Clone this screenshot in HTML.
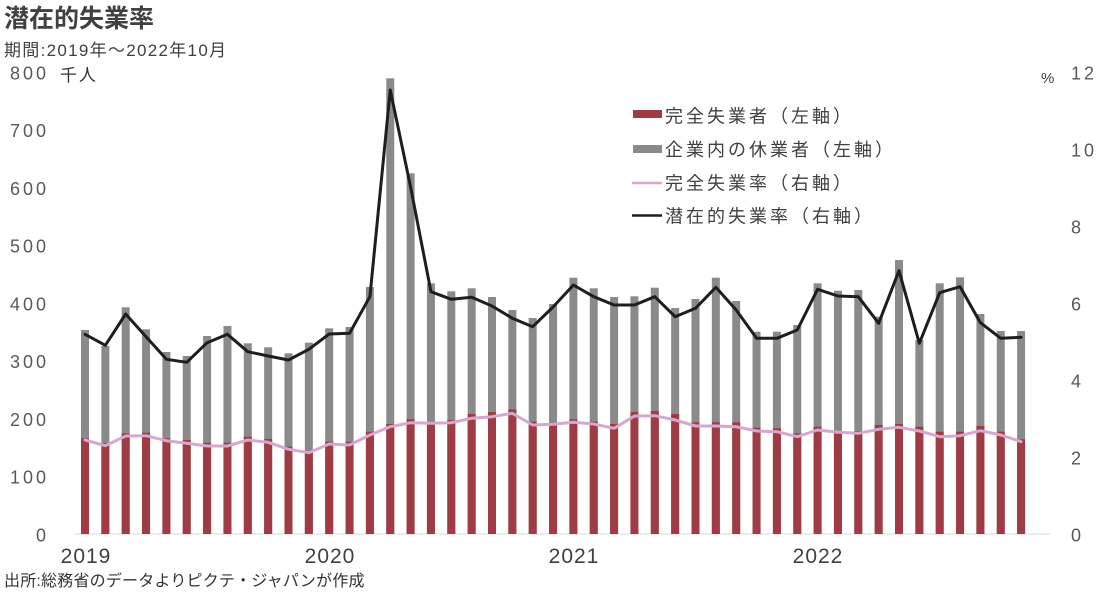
<!DOCTYPE html>
<html>
<head>
<meta charset="utf-8">
<style>
  html,body{margin:0;padding:0;background:#fff;}
  body{width:1105px;height:595px;overflow:hidden;}
  svg{display:block;font-family:"Liberation Sans","Noto Sans CJK JP",sans-serif;}
</style>
</head>
<body>
<svg width="1105" height="595" viewBox="0 0 1105 595" xmlns="http://www.w3.org/2000/svg">
  <rect width="1105" height="595" fill="#fff"/>
  <text x="4" y="27" font-size="25" font-weight="bold" fill="#404040">潜在的失業率</text>
  <text x="4" y="56" font-size="17" letter-spacing="1.3" fill="#404040">期間:2019年～2022年10月</text>
  <text x="60" y="81" font-size="17" letter-spacing="2" fill="#333">千人</text>
  <text x="1041" y="83" font-size="15" fill="#404040">%</text>

  <g font-size="18" letter-spacing="3" fill="#595959" text-anchor="end">
    <text x="49" y="79.5">800</text>
    <text x="49" y="137.2">700</text>
    <text x="49" y="195">600</text>
    <text x="49" y="252.7">500</text>
    <text x="49" y="310.5">400</text>
    <text x="49" y="368.2">300</text>
    <text x="49" y="426">200</text>
    <text x="49" y="483.7">100</text>
    <text x="49" y="541.5">0</text>
  </g>
  <g font-size="18" letter-spacing="3" fill="#595959">
    <text x="1071" y="79.5">12</text>
    <text x="1071" y="156.5">10</text>
    <text x="1071" y="233.5">8</text>
    <text x="1071" y="310.5">6</text>
    <text x="1071" y="387.5">4</text>
    <text x="1071" y="464.5">2</text>
    <text x="1071" y="541.5">0</text>
  </g>

  <line x1="75" y1="534" x2="1050" y2="534" stroke="#d9d9d9" stroke-width="1"/>

  <g fill="#8a8a8a">
    <rect x="81" y="330" width="8" height="204"/>
    <rect x="101.35" y="346" width="8" height="188"/>
    <rect x="121.7" y="307.3" width="8" height="226.7"/>
    <rect x="142.05" y="329.3" width="8" height="204.7"/>
    <rect x="162.4" y="352" width="8" height="182"/>
    <rect x="182.75" y="356" width="8" height="178"/>
    <rect x="203.1" y="336" width="8" height="198"/>
    <rect x="223.45" y="326" width="8" height="208"/>
    <rect x="243.8" y="343.3" width="8" height="190.7"/>
    <rect x="264.15" y="347.3" width="8" height="186.7"/>
    <rect x="284.5" y="353.3" width="8" height="180.7"/>
    <rect x="304.85" y="342.7" width="8" height="191.3"/>
    <rect x="325.2" y="328.3" width="8" height="205.7"/>
    <rect x="345.55" y="327" width="8" height="207"/>
    <rect x="365.9" y="287" width="8" height="247"/>
    <rect x="386.25" y="78.3" width="8" height="455.7"/>
    <rect x="406.6" y="173.3" width="8" height="360.7"/>
    <rect x="426.95" y="283.3" width="8" height="250.7"/>
    <rect x="447.3" y="291.3" width="8" height="242.7"/>
    <rect x="467.65" y="288.3" width="8" height="245.7"/>
    <rect x="488" y="297" width="8" height="237"/>
    <rect x="508.35" y="310" width="8" height="224"/>
    <rect x="528.7" y="318" width="8" height="216"/>
    <rect x="549.05" y="304" width="8" height="230"/>
    <rect x="569.4" y="277.7" width="8" height="256.3"/>
    <rect x="589.75" y="288.3" width="8" height="245.7"/>
    <rect x="610.1" y="297" width="8" height="237"/>
    <rect x="630.45" y="296.3" width="8" height="237.7"/>
    <rect x="650.8" y="287.7" width="8" height="246.3"/>
    <rect x="671.15" y="308" width="8" height="226"/>
    <rect x="691.5" y="299" width="8" height="235"/>
    <rect x="711.85" y="277.7" width="8" height="256.3"/>
    <rect x="732.2" y="301" width="8" height="233"/>
    <rect x="752.55" y="331.7" width="8" height="202.3"/>
    <rect x="772.9" y="331.7" width="8" height="202.3"/>
    <rect x="793.25" y="325" width="8" height="209"/>
    <rect x="813.6" y="283.3" width="8" height="250.7"/>
    <rect x="833.95" y="290.7" width="8" height="243.3"/>
    <rect x="854.3" y="290" width="8" height="244"/>
    <rect x="874.65" y="316.7" width="8" height="217.3"/>
    <rect x="895" y="260" width="8" height="274"/>
    <rect x="915.35" y="340" width="8" height="194"/>
    <rect x="935.7" y="283.3" width="8" height="250.7"/>
    <rect x="956.05" y="277.3" width="8" height="256.7"/>
    <rect x="976.4" y="314" width="8" height="220"/>
    <rect x="996.75" y="331" width="8" height="203"/>
    <rect x="1017.1" y="331" width="8" height="203"/>
  </g>
  <g fill="#9e3b45">
    <rect x="81" y="438.3" width="8" height="95.7"/>
    <rect x="101.35" y="443" width="8" height="91"/>
    <rect x="121.7" y="433.3" width="8" height="100.7"/>
    <rect x="142.05" y="432.7" width="8" height="101.3"/>
    <rect x="162.4" y="438.3" width="8" height="95.7"/>
    <rect x="182.75" y="440" width="8" height="94"/>
    <rect x="203.1" y="442.7" width="8" height="91.3"/>
    <rect x="223.45" y="442.7" width="8" height="91.3"/>
    <rect x="243.8" y="436.7" width="8" height="97.3"/>
    <rect x="264.15" y="439" width="8" height="95"/>
    <rect x="284.5" y="446.7" width="8" height="87.3"/>
    <rect x="304.85" y="450.7" width="8" height="83.3"/>
    <rect x="325.2" y="441.7" width="8" height="92.3"/>
    <rect x="345.55" y="441.7" width="8" height="92.3"/>
    <rect x="365.9" y="431.7" width="8" height="102.3"/>
    <rect x="386.25" y="424" width="8" height="110"/>
    <rect x="406.6" y="419.3" width="8" height="114.7"/>
    <rect x="426.95" y="421.7" width="8" height="112.3"/>
    <rect x="447.3" y="420" width="8" height="114"/>
    <rect x="467.65" y="414" width="8" height="120"/>
    <rect x="488" y="412" width="8" height="122"/>
    <rect x="508.35" y="409.3" width="8" height="124.7"/>
    <rect x="528.7" y="421.7" width="8" height="112.3"/>
    <rect x="549.05" y="422.7" width="8" height="111.3"/>
    <rect x="569.4" y="419.3" width="8" height="114.7"/>
    <rect x="589.75" y="421.7" width="8" height="112.3"/>
    <rect x="610.1" y="424" width="8" height="110"/>
    <rect x="630.45" y="412" width="8" height="122"/>
    <rect x="650.8" y="411" width="8" height="123"/>
    <rect x="671.15" y="414" width="8" height="120"/>
    <rect x="691.5" y="422.3" width="8" height="111.7"/>
    <rect x="711.85" y="422.3" width="8" height="111.7"/>
    <rect x="732.2" y="422.3" width="8" height="111.7"/>
    <rect x="752.55" y="427.7" width="8" height="106.3"/>
    <rect x="772.9" y="428.3" width="8" height="105.7"/>
    <rect x="793.25" y="433.3" width="8" height="100.7"/>
    <rect x="813.6" y="426.7" width="8" height="107.3"/>
    <rect x="833.95" y="431" width="8" height="103"/>
    <rect x="854.3" y="431" width="8" height="103"/>
    <rect x="874.65" y="425" width="8" height="109"/>
    <rect x="895" y="424" width="8" height="110"/>
    <rect x="915.35" y="426.7" width="8" height="107.3"/>
    <rect x="935.7" y="431.7" width="8" height="102.3"/>
    <rect x="956.05" y="431.7" width="8" height="102.3"/>
    <rect x="976.4" y="426" width="8" height="108"/>
    <rect x="996.75" y="431.7" width="8" height="102.3"/>
    <rect x="1017.1" y="439.3" width="8" height="94.7"/>
  </g>

  <polyline fill="none" stroke="#d6a8cd" stroke-width="3" stroke-linejoin="round" stroke-linecap="round"
    points="85,440 105.35,445.7 125.7,436 146.05,435.7 166.4,440.7 186.75,443.3 207.1,446 227.45,446 247.8,440 268.15,442.3 288.5,449.3 308.85,452.7 329.2,444 349.55,445 369.9,435 390.25,426.7 410.6,422.7 430.95,423.3 451.3,422.7 471.65,418.3 492,416.7 512.35,413.3 532.7,425 553.05,424.3 573.4,422.3 593.75,424 614.1,428.3 634.45,416 654.8,415.7 675.15,420 695.5,426 715.85,426 736.2,426.7 756.55,431 776.9,431.7 797.25,436.7 817.6,430 837.95,432.3 858.3,433.3 878.65,429.3 899,427.3 919.35,431 939.7,436.7 960.05,435.7 980.4,430.7 1000.75,435 1021.1,441.7"/>
  <polyline fill="none" stroke="#1e1e1e" stroke-width="3" stroke-linejoin="round" stroke-linecap="round"
    points="85,334.3 105.35,345.3 125.7,314 146.05,336.7 166.4,359.3 186.75,362.3 207.1,342.7 227.45,334.3 247.8,351.7 268.15,356 288.5,360 308.85,349.3 329.2,334 349.55,333.3 369.9,296.7 390.25,90 410.6,187 430.95,291.7 451.3,299.3 471.65,297.3 492,306 512.35,318.3 532.7,326.7 553.05,307 573.4,285 593.75,296.7 614.1,305 634.45,305 654.8,296.7 675.15,316.7 695.5,308.3 715.85,287.3 736.2,310 756.55,338.3 776.9,338.3 797.25,330 817.6,289.3 837.95,296 858.3,296.7 878.65,323.3 899,270.7 919.35,343.3 939.7,292.7 960.05,286.7 980.4,322.7 1000.75,338.3 1021.1,337.3"/>

  <g font-size="21" letter-spacing="1" fill="#404040" text-anchor="middle">
    <text x="86" y="563">2019</text>
    <text x="330" y="563">2020</text>
    <text x="574" y="563">2021</text>
    <text x="818" y="563">2022</text>
  </g>

  <rect x="633" y="110" width="29" height="8" fill="#9e3b45"/>
  <rect x="633" y="145" width="29" height="8" fill="#8a8a8a"/>
  <line x1="632" y1="183" x2="662" y2="183" stroke="#d6a8cd" stroke-width="2.5"/>
  <line x1="632" y1="215.5" x2="662" y2="215.5" stroke="#1e1e1e" stroke-width="2.5"/>
  <g font-size="18" letter-spacing="3" fill="#404040">
    <text x="665" y="122.5">完全失業者（左軸）</text>
    <text x="665" y="156">企業内の休業者（左軸）</text>
    <text x="665" y="189.5">完全失業率（右軸）</text>
    <text x="665" y="222.5">潜在的失業率（右軸）</text>
  </g>

  <text x="4" y="586" font-size="16" letter-spacing="0.2" fill="#333">出所:総務省のデータよりピクテ・ジャパンが作成</text>
</svg>
</body>
</html>
